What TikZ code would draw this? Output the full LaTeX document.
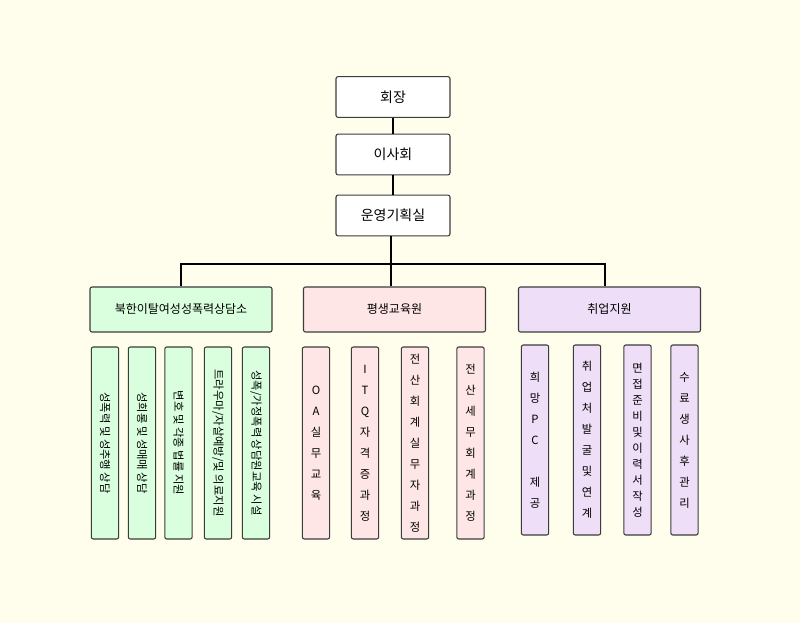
\documentclass[tikz,border=0pt]{standalone}
\usepackage{fontspec}
\setmainfont{Noto Sans CJK KR}
\definecolor{bgcream}{RGB}{255,253,235}
\definecolor{greenfill}{RGB}{217,255,222}
\definecolor{pinkfill}{RGB}{255,230,230}
\definecolor{lilacfill}{RGB}{239,222,247}
\definecolor{edgegray}{RGB}{60,60,60}
\tikzset{
  box/.style={draw=edgegray, line width=0.8pt, rounded corners=1.5pt, inner sep=0pt, align=center},
  topbox/.style={box, fill=white, minimum width=85.5pt, minimum height=30.5pt, font=\fontsize{10.5}{12}\selectfont},
  deptbox/.style={box, minimum width=136.5pt, minimum height=33.75pt, font=\fontsize{9}{11}\selectfont},
  taskbox/.style={box, minimum width=20.5pt, minimum height=144pt, font=\fontsize{8.5}{15.75}\selectfont},
  link/.style={line width=1.5pt, black}
}
\begin{document}
\begin{tikzpicture}[x=0.75pt,y=0.75pt,yscale=-1,xscale=1]
%background, sets the page to 800 x 623
\fill[bgcream] (0,0) rectangle (800,623);
\useasboundingbox (0,0) rectangle (800,623);
%Top column
\node[topbox] (chair) at (393,97) {회장};
\node[topbox] (board) at (393,154.5) {이사회};
\node[topbox] (plan) at (393,215.5) {운영기획실};
%Departments
\node[deptbox, fill=greenfill] (counsel) at (181,309.5) {북한이탈여성성폭력상담소};
\node[deptbox, fill=pinkfill] (lifelong) at (394.5,309.5) {평생교육원};
\node[deptbox, fill=lilacfill] (jobs) at (609.5,309.5) {취업지원};
%Counselling tasks, text turned
\node[taskbox, fill=greenfill] (cA) at (105,443) {\rotatebox{-90}{\fontsize{8.5}{10}\selectfont 성폭력 및 성추행 상담}};
\node[taskbox, fill=greenfill] (cB) at (142,443) {\rotatebox{-90}{\fontsize{8.5}{10}\selectfont 성희롱 및 성매매 상담}};
\node[taskbox, fill=greenfill] (cC) at (178.5,443) {\rotatebox{-90}{\fontsize{8.5}{10}\selectfont 변호 및 각종 법률 지원}};
\node[taskbox, fill=greenfill] (cD) at (218,443) {\rotatebox{-90}{\fontsize{8.5}{10}\selectfont 트라우마/자살예방/및 의료지원}};
\node[taskbox, fill=greenfill] (cE) at (256,443) {\rotatebox{-90}{\fontsize{8.5}{10}\selectfont 성폭/가정폭력 상담원교육 시설}};
%Education courses, stacked letters
\node[taskbox, fill=pinkfill] (eA) at (316,443) {O\\A\\실\\무\\교\\육};
\node[taskbox, fill=pinkfill] (eB) at (365,443) {I\\T\\Q\\자\\격\\증\\과\\정};
\node[taskbox, fill=pinkfill] (eC) at (415,443) {전\\산\\회\\계\\실\\무\\자\\과\\정};
\node[taskbox, fill=pinkfill] (eD) at (470.5,443) {전\\산\\세\\무\\회\\계\\과\\정};
%Job support tasks
\node[taskbox, fill=lilacfill, minimum height=142.5pt] (jA) at (535,440) {희\\망\\P\\C\\\mbox{}\\제\\공};
\node[taskbox, fill=lilacfill, minimum height=142.5pt] (jB) at (587,440) {취\\업\\처\\발\\굴\\및\\연\\계};
\node[taskbox, fill=lilacfill, minimum height=142.5pt, font=\fontsize{8.5}{12}\selectfont] (jC) at (637.5,440) {면\\접\\준\\비\\및\\이\\력\\서\\작\\성};
\node[taskbox, fill=lilacfill, minimum height=142.5pt] (jD) at (684.5,440) {수\\료\\생\\사\\후\\관\\리};
%Connectors
\coordinate (bus) at (391,264);
\draw[link] (chair.south) -- (board.north);
\draw[link] (board.south) -- (plan.north);
\draw[link] (plan.south -| bus) -- (bus);
\draw[link] (bus) -| (counsel.north);
\draw[link] (bus) -- (bus |- lifelong.north);
\draw[link] (bus) -| ([xshift=-3.4pt]jobs.north);
\end{tikzpicture}
\end{document}
